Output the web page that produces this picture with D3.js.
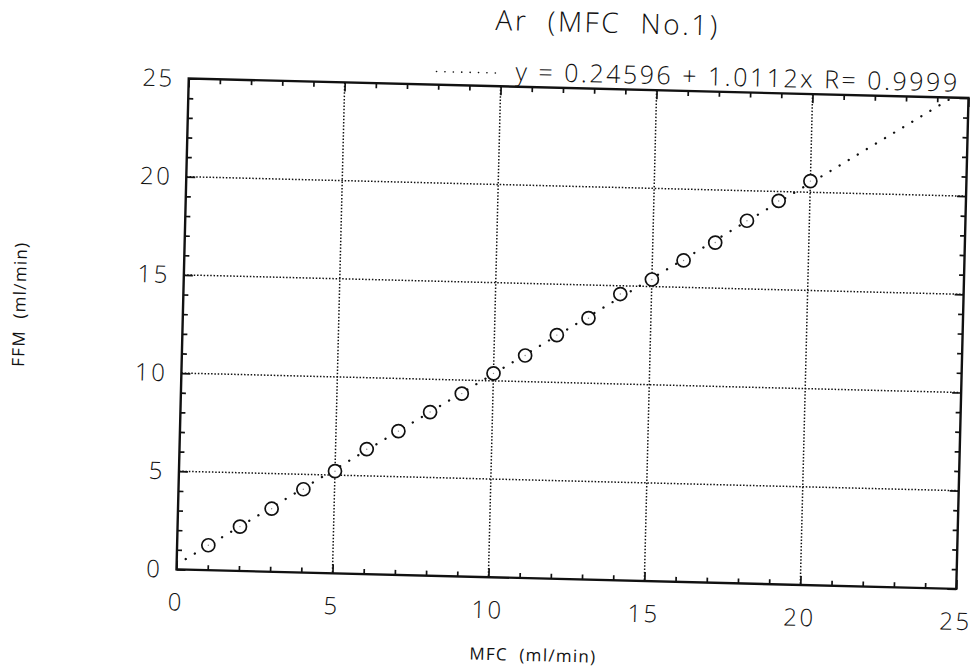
<!DOCTYPE html>
<html>
<head>
<meta charset="utf-8">
<script src="https://cdn.jsdelivr.net/npm/d3@7"></script>
<style>
  html, body { margin: 0; padding: 0; background: #fff; }
  svg { display: block; }
  text { font-family: "Open Sans", "DejaVu Sans", sans-serif; fill: #111; }
</style>
</head>
<body>
<script>
// ---- data ----
const mfcValues = [1, 2, 3, 4, 5, 6, 7, 8, 9, 10, 11, 12, 13, 14, 15, 16, 17, 18, 19, 20];
const ffmValues = [1.27, 2.26, 3.21, 4.24, 5.20, 6.36, 7.32, 8.33, 9.31, 10.38,
                   11.33, 12.41, 13.31, 14.58, 15.36, 16.37, 17.32, 18.47, 19.52, 20.57];
const xTickLabels = [0, 5, 10, 15, 20, 25];
const yTickLabels = [0, 5, 10, 15, 20, 25];
const minorTicks = d3.range(0, 26, 1);
const fitIntercept = 0.24596;
const fitSlope = 1.0112;
const fitR = 0.9999;
const titleText = "Ar  (MFC  No.1)";
const xTitle = "MFC  (ml/min)";
const yTitle = "FFM  (ml/min)";

// ---- layout ----
const W = 975, H = 669;
const m = { left: 182.5, right: 12.5, top: 88.2, bottom: 89.8 };
const pw = W - m.left - m.right, ph = H - m.top - m.bottom;
const cx = m.left + pw / 2, cy = m.top + ph / 2;

const svg = d3.select("body").append("svg").attr("width", W).attr("height", H);
const root = svg.append("g").attr("transform", `rotate(1.43, ${cx}, ${cy})`);
const g = root.append("g").attr("transform", `translate(${m.left},${m.top})`);

const x = d3.scaleLinear().domain([0, 25]).range([0, pw]);
const y = d3.scaleLinear().domain([0, 25]).range([ph, 0]);

svg.append("defs").append("clipPath").attr("id", "clip")
  .append("rect").attr("width", pw).attr("height", ph);

// grid lines (dotted) at major ticks
const gridX = xTickLabels.filter(d => d > 0 && d < 25);
const gridY = yTickLabels.filter(d => d > 0 && d < 25);
g.append("g").selectAll("line").data(gridX).join("line")
  .attr("x1", d => x(d)).attr("x2", d => x(d)).attr("y1", 0).attr("y2", ph)
  .attr("stroke", "#111").attr("stroke-width", 1.5).attr("stroke-dasharray", "1.5 1.8");
g.append("g").selectAll("line").data(gridY).join("line")
  .attr("y1", d => y(d)).attr("y2", d => y(d)).attr("x1", 0).attr("x2", pw)
  .attr("stroke", "#111").attr("stroke-width", 1.5).attr("stroke-dasharray", "1.5 1.8");

// axes with inward ticks on all sides
const tickLen = d => (d % 5 === 0 ? 9 : 5);
function styleAxis(sel) {
  sel.select(".domain").remove();
  sel.selectAll(".tick text").remove();
  sel.selectAll(".tick line").attr("stroke", "#111").attr("stroke-width", 1.7);
}
const axBottom = g.append("g").attr("transform", `translate(0,${ph})`)
  .call(d3.axisBottom(x).tickValues(minorTicks).tickSize(0));
axBottom.selectAll(".tick line").attr("y2", d => -tickLen(d));
styleAxis(axBottom);
const axTop = g.append("g")
  .call(d3.axisTop(x).tickValues(minorTicks).tickSize(0));
axTop.selectAll(".tick line").attr("y2", d => tickLen(d));
styleAxis(axTop);
const axLeft = g.append("g")
  .call(d3.axisLeft(y).tickValues(minorTicks).tickSize(0));
axLeft.selectAll(".tick line").attr("x2", d => tickLen(d));
styleAxis(axLeft);
const axRight = g.append("g").attr("transform", `translate(${pw},0)`)
  .call(d3.axisRight(y).tickValues(minorTicks).tickSize(0));
axRight.selectAll(".tick line").attr("x2", d => -tickLen(d));
styleAxis(axRight);

// frame
g.append("rect").attr("width", pw).attr("height", ph)
  .attr("fill", "none").attr("stroke", "#111").attr("stroke-width", 2.4);

// fit line (dotted)
const fitLine = d3.line().x(d => x(d)).y(d => y(fitIntercept + fitSlope * d));
g.append("path").datum([0, 25]).attr("d", fitLine)
  .attr("clip-path", "url(#clip)")
  .attr("fill", "none").attr("stroke", "#111").attr("stroke-width", 2.3)
  .attr("stroke-linecap", "round").attr("stroke-dasharray", "0.1 10.5");

// data points
const pts = mfcValues.map((v, i) => [v, ffmValues[i]]);
g.append("g").selectAll("circle").data(pts).join("circle")
  .attr("cx", d => x(d[0])).attr("cy", d => y(d[1])).attr("r", 6.5)
  .attr("fill", "#fff").attr("stroke", "#111").attr("stroke-width", 1.7);
g.append("g").selectAll("circle").data(pts).join("circle")
  .attr("cx", d => x(d[0])).attr("cy", d => y(d[1])).attr("r", 0.7)
  .attr("fill", "#888");

// tick labels
g.append("g").selectAll("text").data(xTickLabels).join("text")
  .attr("x", d => x(d)).attr("y", ph + 41)
  .attr("text-anchor", "middle").attr("font-size", 24).attr("letter-spacing", 2.5)
  .attr("font-weight", 300)
  .text(d => d);
g.append("g").selectAll("text").data(yTickLabels).join("text")
  .attr("x", -14).attr("y", d => y(d)).attr("dy", "0.35em")
  .attr("text-anchor", "end").attr("font-size", 24).attr("letter-spacing", 2.5)
  .attr("font-weight", 300)
  .text(d => d);

// axis titles
root.append("text").attr("x", 541).attr("y", 662)
  .attr("text-anchor", "middle").attr("font-size", 17).attr("letter-spacing", 1.3)
  .style("white-space", "pre").text(xTitle);
root.append("text")
  .attr("transform", `translate(25, 318) rotate(-90)`)
  .attr("text-anchor", "middle").attr("font-size", 17).attr("letter-spacing", 1.3)
  .style("white-space", "pre").text(yTitle);

// title
root.append("text").attr("x", 600).attr("y", 32)
  .attr("text-anchor", "middle").attr("font-size", 28).attr("letter-spacing", 2.5)
  .attr("font-weight", 300)
  .style("white-space", "pre").text(titleText);

// legend / fit equation
const leg = root.append("g");
leg.append("line").attr("x1", 430).attr("x2", 497).attr("y1", 75).attr("y2", 75)
  .attr("stroke", "#111").attr("stroke-width", 1.6).attr("stroke-linecap", "round")
  .attr("stroke-dasharray", "0.1 8.3");
leg.append("text").attr("x", 509).attr("y", 82)
  .attr("font-size", 25).attr("letter-spacing", 2.5).attr("font-weight", 300)
  .style("white-space", "pre")
  .text(`y = ${fitIntercept} + ${fitSlope}x R= ${fitR}`);
</script>
</body>
</html>
